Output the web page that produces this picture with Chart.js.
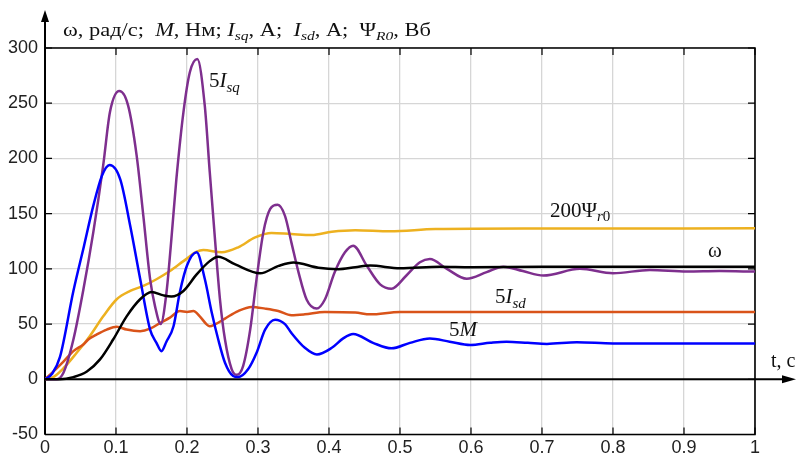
<!DOCTYPE html>
<html>
<head>
<meta charset="utf-8">
<script src="https://cdn.jsdelivr.net/npm/chart.js@4"></script>
<style>
  html, body { margin: 0; padding: 0; background: #fff; }
  #wrap { width: 799px; height: 463px; position: relative; }
</style>
</head>
<body>
<div id="wrap"><canvas id="chart"></canvas></div>
<script>
// time samples (s) and values for every curve
const tOmega = [0, 0.021, 0.04, 0.059, 0.0775, 0.096, 0.115, 0.134, 0.15, 0.167, 0.178, 0.195, 0.2136, 0.232, 0.244, 0.268, 0.303, 0.329, 0.35, 0.385, 0.413, 0.437, 0.458, 0.5, 0.556, 0.6, 0.7, 0.8, 1];
const omega  = [0, 0, 2, 7, 18, 36, 57, 72.5, 79, 76, 75, 80, 95, 107, 111, 104, 96, 102.7, 105.8, 101, 99.7, 101.5, 103, 100.5, 102, 101.5, 102, 102, 102];

const tM = [0, 0.01, 0.021, 0.04, 0.055, 0.068, 0.08, 0.091, 0.106, 0.12, 0.134, 0.148, 0.157, 0.164, 0.171, 0.181, 0.19, 0.2, 0.2136, 0.225, 0.235, 0.244, 0.2535, 0.265, 0.272, 0.286, 0.298, 0.31, 0.324, 0.338, 0.347, 0.366, 0.383, 0.404, 0.42, 0.434, 0.462, 0.488, 0.514, 0.542, 0.57, 0.599, 0.627, 0.65, 0.68, 0.707, 0.749, 0.8, 0.9, 1];
const m5 = [0, 5, 20, 80, 121, 157, 184, 194, 181, 139, 91, 45, 33, 25.5, 34, 48, 79, 103, 115, 91, 60, 36, 15, 3, 2, 9, 24, 45, 54, 50, 42, 28.5, 22.5, 28.5, 37, 41, 33, 28, 33, 37, 34, 31, 33, 34, 33, 32, 33.5, 32.5, 32.5, 32.5];

const tIsq = [0, 0.016, 0.026, 0.04, 0.054, 0.068, 0.082, 0.0915, 0.1047, 0.117, 0.129, 0.1385, 0.148, 0.155, 0.163, 0.171, 0.178, 0.185, 0.195, 0.204, 0.2145, 0.225, 0.232, 0.2394, 0.2465, 0.2535, 0.263, 0.27, 0.279, 0.289, 0.298, 0.3075, 0.317, 0.3277, 0.338, 0.347, 0.357, 0.3686, 0.3826, 0.394, 0.408, 0.4225, 0.434, 0.453, 0.472, 0.488, 0.509, 0.528, 0.542, 0.566, 0.594, 0.622, 0.6455, 0.673, 0.702, 0.7535, 0.8, 0.852, 0.904, 0.95, 1];
const isq5 = [0, 0, 6, 36, 81, 133, 194, 242, 261, 248, 203, 148, 91, 66, 50, 78, 127, 181, 242, 278, 290, 248, 188, 127, 72, 36, 9, 4, 12, 45, 91, 133, 154, 158, 148, 124, 97, 72, 64, 72, 97, 115, 121, 103, 86, 82, 94, 106, 109, 100, 91, 97, 102, 98, 94, 100, 96, 99, 97.5, 98, 97.5];

const tIsd = [0, 0.0117, 0.026, 0.04, 0.054, 0.061, 0.073, 0.087, 0.101, 0.115, 0.134, 0.148, 0.162, 0.176, 0.19, 0.2, 0.209, 0.218, 0.2277, 0.232, 0.2394, 0.2535, 0.272, 0.291, 0.31, 0.3286, 0.347, 0.366, 0.394, 0.437, 0.458, 0.5, 0.6, 1];
const isd5 = [0, 7, 16, 25.5, 31.5, 36, 40.6, 45, 47.6, 45, 43.6, 45.8, 51, 55.8, 61.8, 61, 61.8, 57, 49.7, 48, 49.7, 55, 61.8, 65.5, 64, 61.8, 58, 58.8, 61, 60.5, 58.8, 61, 61, 61];

const tPsi = [0, 0.0117, 0.026, 0.0446, 0.063, 0.082, 0.101, 0.12, 0.1385, 0.157, 0.176, 0.195, 0.2136, 0.223, 0.249, 0.272, 0.296, 0.319, 0.347, 0.3756, 0.404, 0.437, 0.486, 0.55, 0.7, 1];
const psi200 = [0, 2, 10, 24, 39, 57, 72.5, 80, 84.5, 90.6, 98, 107, 115.5, 117, 115, 119.5, 128.5, 132.5, 131.5, 130.6, 133.6, 135, 134, 136, 136.5, 136.7];

const xTicks = [0, 0.1, 0.2, 0.3, 0.4, 0.5, 0.6, 0.7, 0.8, 0.9, 1];
const yTicks = [-50, 0, 50, 100, 150, 200, 250, 300];

const SANS = '"Liberation Sans", Arial, sans-serif';
const SERIF = '"Liberation Serif", "Times New Roman", serif';

function pts(ts, vs) {
    return ts.map((t, i) => ({ x: t, y: vs[i] }));
}

function series(label, ts, vs, color) {
    return {
        label: label,
        data: pts(ts, vs),
        borderColor: color,
        borderWidth: 2.5,
        pointRadius: 0,
        fill: false,
        cubicInterpolationMode: 'monotone'
    };
}

// text made of runs with different fonts (italics, subscripts); sx stretches it sideways
function drawRuns(ctx, x, y, runs, sx) {
    sx = sx || 1;
    ctx.save();
    ctx.translate(x, y);
    ctx.scale(sx, 1);
    ctx.textAlign = 'left';
    ctx.textBaseline = 'alphabetic';
    let cx = 0;
    runs.forEach(r => {
        ctx.font = r.font;
        ctx.fillText(r.text, cx, r.dy || 0);
        cx += ctx.measureText(r.text).width;
    });
    ctx.restore();
}

const up = s => s + 'px ' + SERIF;
const it = s => 'italic ' + s + 'px ' + SERIF;

// frame, arrows, inner ticks and labels
const decor = {
    id: 'decor',
    beforeDatasetsDraw(chart) {
        const { ctx, chartArea: a, scales } = chart;
        const xs = scales.x, ys = scales.y;
        ctx.save();
        ctx.strokeStyle = '#000';
        ctx.fillStyle = '#000';
        ctx.lineWidth = 1.6;
        ctx.beginPath();
        ctx.moveTo(a.left, a.top); ctx.lineTo(a.right, a.top);
        ctx.lineTo(a.right, a.bottom); ctx.lineTo(a.left, a.bottom);
        ctx.stroke();
        // inward ticks
        ctx.lineWidth = 1.2;
        ctx.beginPath();
        xTicks.forEach(t => {
            const px = xs.getPixelForValue(t);
            ctx.moveTo(px, a.top); ctx.lineTo(px, a.top + 7);
            ctx.moveTo(px, a.bottom); ctx.lineTo(px, a.bottom - 7);
        });
        yTicks.forEach(v => {
            const py = ys.getPixelForValue(v);
            ctx.moveTo(a.left, py); ctx.lineTo(a.left + 7, py);
            ctx.moveTo(a.right, py); ctx.lineTo(a.right - 7, py);
        });
        ctx.stroke();
        // y axis with arrow
        ctx.lineWidth = 2;
        ctx.beginPath();
        ctx.moveTo(a.left, a.bottom); ctx.lineTo(a.left, 18);
        ctx.stroke();
        ctx.beginPath();
        ctx.moveTo(a.left, 10); ctx.lineTo(a.left - 4, 22); ctx.lineTo(a.left + 4, 22);
        ctx.closePath(); ctx.fill();
        // zero line with arrow
        const y0 = ys.getPixelForValue(0);
        ctx.beginPath();
        ctx.moveTo(a.left, y0); ctx.lineTo(786, y0);
        ctx.stroke();
        ctx.beginPath();
        ctx.moveTo(796, y0); ctx.lineTo(782, y0 - 4); ctx.lineTo(782, y0 + 4);
        ctx.closePath(); ctx.fill();
        ctx.restore();
    },
    afterDatasetsDraw(chart) {
        const ctx = chart.ctx;
        ctx.save();
        ctx.fillStyle = '#111';
        drawRuns(ctx, 63, 36, [
            { text: 'ω, рад/с;  ', font: up(19.5) },
            { text: 'M', font: it(19.5) },
            { text: ', Нм; ', font: up(19.5) },
            { text: 'I', font: it(19.5) },
            { text: 'sq', font: it(13.5), dy: 4 },
            { text: ', А;  ', font: up(19.5) },
            { text: 'I', font: it(19.5) },
            { text: 'sd', font: it(13.5), dy: 4 },
            { text: ', А;  ', font: up(19.5) },
            { text: 'Ψ', font: up(19.5) },
            { text: 'R0', font: it(13.5), dy: 4 },
            { text: ', Вб', font: up(19.5) }
        ], 1.15);
        drawRuns(ctx, 209, 87, [
            { text: '5', font: up(21) },
            { text: 'I', font: it(21) },
            { text: 'sq', font: it(15), dy: 5 }
        ]);
        drawRuns(ctx, 550, 217, [
            { text: '200Ψ', font: up(21) },
            { text: 'r', font: it(15), dy: 4 },
            { text: '0', font: up(15), dy: 4 }
        ]);
        drawRuns(ctx, 708, 257, [{ text: 'ω', font: up(21) }]);
        drawRuns(ctx, 495, 303, [
            { text: '5', font: up(21) },
            { text: 'I', font: it(21) },
            { text: 'sd', font: it(15), dy: 5 }
        ]);
        drawRuns(ctx, 449, 336, [
            { text: '5', font: up(21) },
            { text: 'M', font: it(21) }
        ]);
        drawRuns(ctx, 771, 367, [{ text: 't, c', font: up(20) }]);
        ctx.restore();
    }
};

new Chart(document.getElementById('chart'), {
    type: 'line',
    data: {
        datasets: [
            series('ω', tOmega, omega, '#000000'),
            series('5M', tM, m5, '#0000ff'),
            series('5Isq', tIsq, isq5, '#7e2f8e'),
            series('5Isd', tIsd, isd5, '#d95319'),
            series('200Ψr0', tPsi, psi200, '#edb120')
        ]
    },
    options: {
        responsive: true,
        maintainAspectRatio: false,
        animation: false,
        layout: { padding: { top: 48, right: 44, left: 0, bottom: 0 } },
        plugins: {
            legend: { display: false },
            tooltip: { enabled: false }
        },
        scales: {
            x: {
                type: 'linear',
                min: 0,
                max: 1,
                afterFit: s => { s.height = 28.5; },
                afterBuildTicks: s => { s.ticks = xTicks.map(v => ({ value: v })); },
                grid: { color: '#d6d6d6', lineWidth: 1.3, drawTicks: false },
                border: { display: false },
                ticks: {
                    padding: 3,
                    color: '#222',
                    font: { family: SANS, size: 18 },
                    maxRotation: 0,
                    callback: v => String(v)
                }
            },
            y: {
                min: -50,
                max: 300,
                afterFit: s => { s.width = 45; },
                afterBuildTicks: s => { s.ticks = yTicks.map(v => ({ value: v })); },
                grid: { color: '#d6d6d6', lineWidth: 1.3, drawTicks: false },
                border: { display: false },
                ticks: {
                    padding: 7,
                    color: '#222',
                    font: { family: SANS, size: 18 }
                }
            }
        }
    },
    plugins: [decor]
});
</script>
</body>
</html>
